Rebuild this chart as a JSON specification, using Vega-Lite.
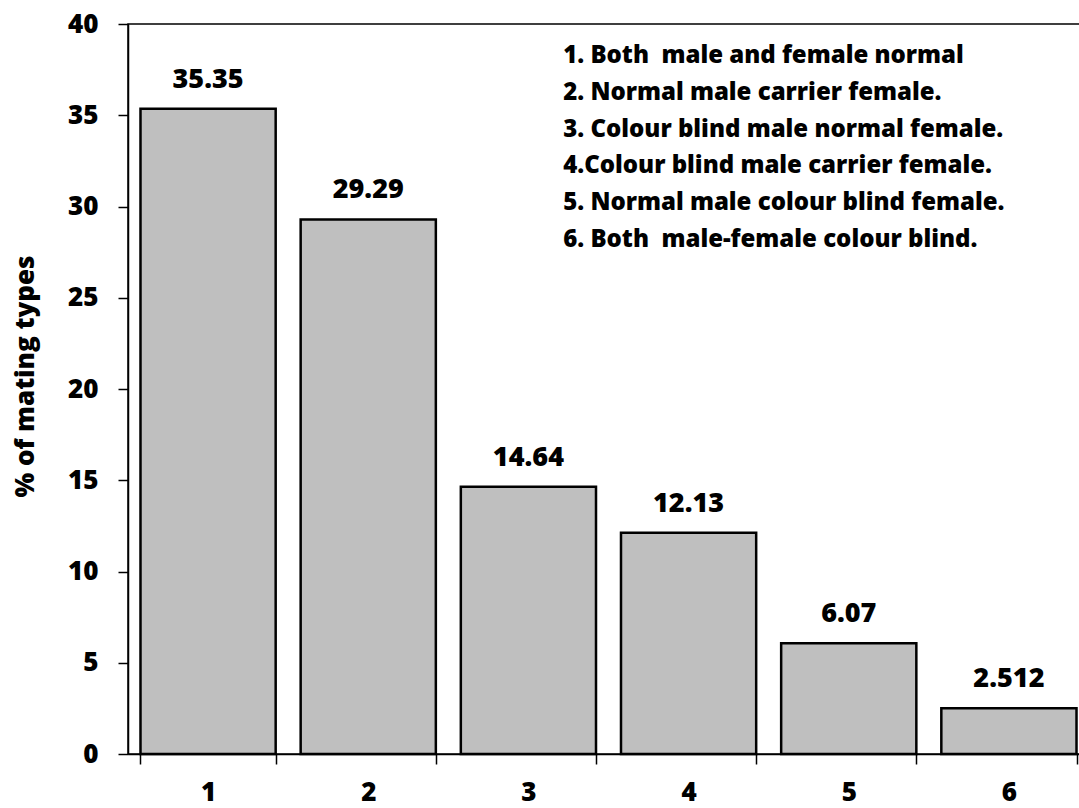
{
  "$schema": "https://vega.github.io/schema/vega-lite/v6.json",
  "autosize": "none",
  "width": 961,
  "height": 730,
  "padding": {"left": 128, "top": 24, "right": 0, "bottom": 54},
  "background": "white",
  "config": {
    "font": "Open Sans",
    "view": {"stroke": "black", "strokeWidth": 1.5},
    "axis": {"grid": false, "domainColor": "black", "domainWidth": 1.5, "tickColor": "black", "tickWidth": 1.5, "tickSize": 10, "labelColor": "black", "labelFont": "Open Sans", "labelFontWeight": 800, "labelFontSize": 26, "titleFont": "Open Sans", "titleFontWeight": 800, "titleFontSize": 26, "titleColor": "black"}
  },
  "datasets": {
    "bars": [
      {"type": "1", "pct": 35.35, "label": "35.35"},
      {"type": "2", "pct": 29.29, "label": "29.29"},
      {"type": "3", "pct": 14.64, "label": "14.64"},
      {"type": "4", "pct": 12.13, "label": "12.13"},
      {"type": "5", "pct": 6.07, "label": "6.07"},
      {"type": "6", "pct": 2.512, "label": "2.512"}
    ],
    "legend": [
      {"type": "3", "y": 38.25, "text": "1. Both\u00a0\u00a0male and female normal"},
      {"type": "3", "y": 36.23, "text": "2. Normal male carrier female."},
      {"type": "3", "y": 34.21, "text": "3. Colour blind male normal female."},
      {"type": "3", "y": 32.2, "text": "4.Colour blind male carrier female."},
      {"type": "3", "y": 30.18, "text": "5. Normal male colour blind female."},
      {"type": "3", "y": 28.16, "text": "6. Both\u00a0\u00a0male-female colour blind."}
    ]
  },
  "layer": [
    {
      "data": {"name": "bars"},
      "mark": {"type": "bar", "fill": "#bfbfbf", "stroke": "black", "strokeWidth": 2.5},
      "encoding": {
        "x": {"field": "type", "type": "ordinal", "sort": null,
              "scale": {"paddingInner": 0.156, "paddingOuter": 0.078},
              "axis": {"title": null, "labelAngle": 0, "tickBand": "extent", "labelPadding": 15, "labelBaseline": "top"}},
        "y": {"field": "pct", "type": "quantitative",
              "scale": {"domain": [0, 40], "nice": false},
              "axis": {"title": "% of mating types", "values": [0, 5, 10, 15, 20, 25, 30, 35, 40], "labelPadding": 20, "titlePadding": 29, "titleY": 352}}
      }
    },
    {
      "data": {"name": "bars"},
      "mark": {"type": "text", "font": "Open Sans", "fontWeight": 800, "fontSize": 27, "color": "black", "baseline": "alphabetic", "dy": -21},
      "encoding": {
        "x": {"field": "type", "type": "ordinal", "sort": null},
        "y": {"field": "pct", "type": "quantitative"},
        "text": {"field": "label"}
      }
    },
    {
      "data": {"name": "legend"},
      "mark": {"type": "text", "font": "Open Sans", "fontWeight": 800, "fontSize": 24, "color": "black", "align": "left", "baseline": "middle"},
      "encoding": {
        "x": {"field": "type", "type": "ordinal", "bandPosition": 0.757},
        "y": {"field": "y", "type": "quantitative"},
        "text": {"field": "text"}
      }
    }
  ]
}
